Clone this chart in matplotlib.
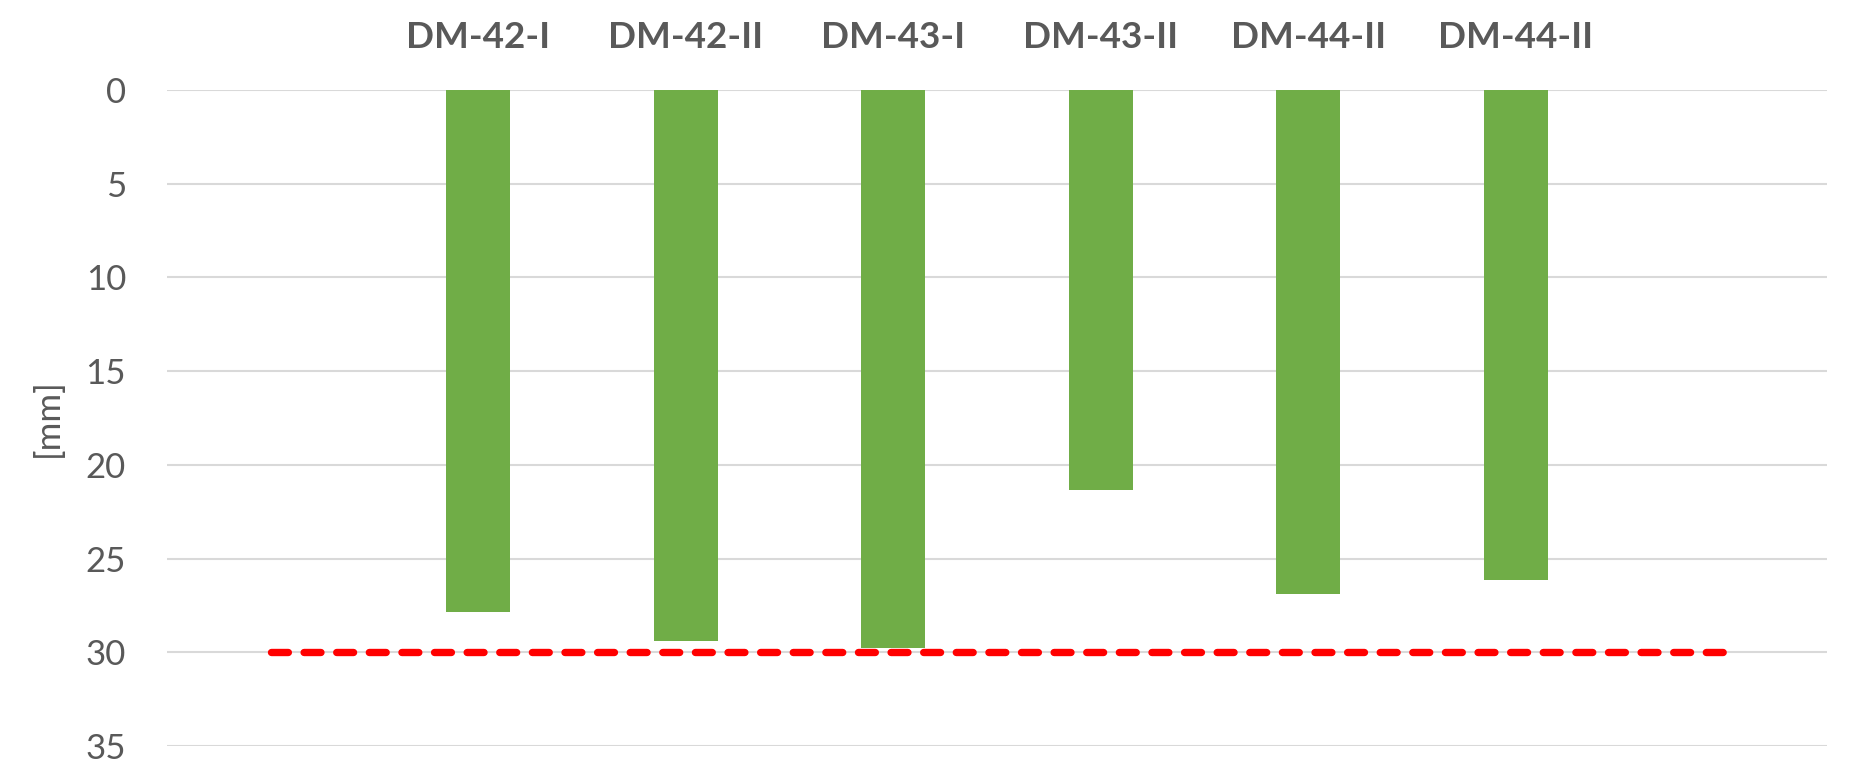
import matplotlib
matplotlib.use("Agg")
import matplotlib.pyplot as plt

# Data
categories = ["", "DM-42-I", "DM-42-II", "DM-43-I", "DM-43-II", "DM-44-II", "DM-44-II", ""]
depth = [None, 27.86, 29.38, 29.79, 21.32, 26.87, 26.17, None]
limit = [30, 30, 30, 30, 30, 30, 30, 30]
y_ticks = [0, 5, 10, 15, 20, 25, 30, 35]

plt.rcParams["font.family"] = ["Lato", "DejaVu Sans"]

fig = plt.figure(figsize=(18.75, 7.76), dpi=100)
ax = fig.add_axes([0.0891, 0.0387, 0.8853, 0.8453])

x = list(range(len(categories)))
bar_x = [i for i, v in zip(x, depth) if v is not None]
bar_v = [v for v in depth if v is not None]

ax.bar(bar_x, bar_v, width=0.31, color="#70ad47", zorder=2)
ax.plot(x, limit, color="#ff0000", linewidth=5.3, linestyle=(0, (2.29, 2.14)),
        dash_capstyle="round", zorder=3)

ax.set_xlim(-0.5, len(categories) - 0.5)
ax.set_ylim(35, 0)
ax.set_yticks(y_ticks)
ax.set_yticklabels([str(t) for t in y_ticks])

ax.set_xticks(x)
ax.set_xticklabels(categories, fontweight="bold")
ax.xaxis.set_ticks_position("top")
ax.tick_params(axis="x", length=0, pad=26, labelsize=26.5, labelcolor="#595959")
ax.tick_params(axis="y", length=0, pad=29.5, labelsize=25, labelcolor="#595959")

ax.yaxis.grid(True, color="#d9d9d9", linewidth=1.5, zorder=0)
ax.set_axisbelow(True)
for s in ax.spines.values():
    s.set_visible(False)

ax.set_ylabel("[mm]", fontsize=25, color="#595959")
ax.yaxis.set_label_coords(-0.062, 0.5)

fig.savefig("out.png", dpi=100)
